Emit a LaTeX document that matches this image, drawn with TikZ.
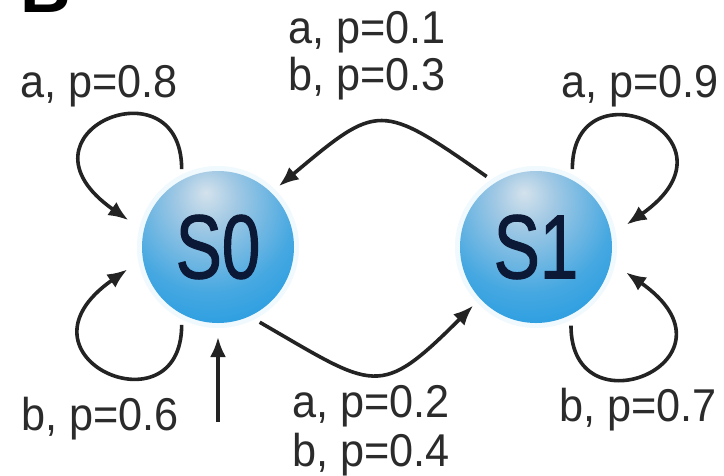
\documentclass[tikz,border=0pt]{standalone}
\usepackage{fontspec}
\setmainfont{Liberation Sans}
\newfontfamily\lblfont[FakeStretch=0.94]{Liberation Sans}
\newfontfamily\stfont[FakeStretch=0.76,FakeBold=1.2]{Liberation Sans}
\usetikzlibrary{arrows.meta}
\definecolor{linec}{HTML}{232323}
\definecolor{textc}{HTML}{2b2b2b}
\definecolor{stc}{HTML}{0b1836}
\definecolor{sA}{RGB}{212,226,236}
\definecolor{sB}{RGB}{160,200,228}
\definecolor{sC}{RGB}{70,168,225}
\definecolor{sD}{RGB}{22,150,225}
\definecolor{sE}{RGB}{16,128,205}
\definecolor{glowc}{RGB}{240,249,253}
\pgfdeclareradialshading{sphereshade}{\pgfpoint{-4bp}{18bp}}{color(0bp)=(sA); color(10bp)=(sB); color(28bp)=(sC); color(46bp)=(sD); color(60bp)=(sE); color(100bp)=(sE)}
\begin{document}
\begin{tikzpicture}[x=1pt,y=-1pt,
  state/.style={circle, minimum size=152pt, inner sep=0pt, outer sep=10pt,
    shading=sphereshade, text=stc, font=\stfont\fontsize{91}{91}\selectfont},
  lbl/.style={anchor=base, inner sep=0pt, text=textc, align=center,
    font=\lblfont\fontsize{46}{48}\selectfont},
  arr/.style={draw=linec, line width=3.6pt, -{Latex[length=20pt,width=16pt]}},
  glow/.style={fill=glowc}]
\useasboundingbox (0,0) rectangle (724,475);
\fill[white] (0,0) rectangle (724,475);
\fill[glow] (218,247) circle (81);
\fill[glow] (536,247) circle (81);
\node[state] (s0) at (218,247) {S0};
\node[state] (s1) at (536,247) {S1};
\node[anchor=base west, inner sep=0pt, font=\bfseries\fontsize{70}{70}\selectfont] (panel) at (20,12) {B};
\coordinate (init) at (218,422);
% self loops
\draw[arr, shorten >=8pt] (s0.115) to[out=90, in=145, out distance=110pt, in distance=160pt] (s0.165);
\draw[arr, shorten >=8pt] (s0.245) to[out=-90, in=-145, out distance=110pt, in distance=160pt] (s0.192);
\draw[arr, shorten >=8pt] (s1.65) to[out=90, in=35, out distance=110pt, in distance=160pt] (s1.12);
\draw[arr, shorten >=8pt] (s1.-66) to[out=-90, in=-35, out distance=110pt, in distance=160pt] (s1.-14);
% transitions
\draw[arr] (s1.125) to[out=145, in=40, looseness=1.6] (s0.45);
\draw[arr] (s0.-61) to[out=-30, in=-135, looseness=1.6] (s1.223);
\draw[arr, shorten >=4pt] (init) -- (s0.south);
% labels
\node[lbl] (l08) at (99,97) {a, p=0.8};
\node[lbl] (l09) at (640,97) {a, p=0.9};
\node[lbl] (l06) at (100,430) {b, p=0.6};
\node[lbl] (l07) at (638,421) {b, p=0.7};
\node[lbl, font=\lblfont\fontsize{46}{47}\selectfont] (ltop) at (367,90) {a, p=0.1\\b, p=0.3};
\node[lbl, font=\lblfont\fontsize{46}{49}\selectfont] (lbot) at (371,466) {a, p=0.2\\b, p=0.4};
\end{tikzpicture}
\end{document}
